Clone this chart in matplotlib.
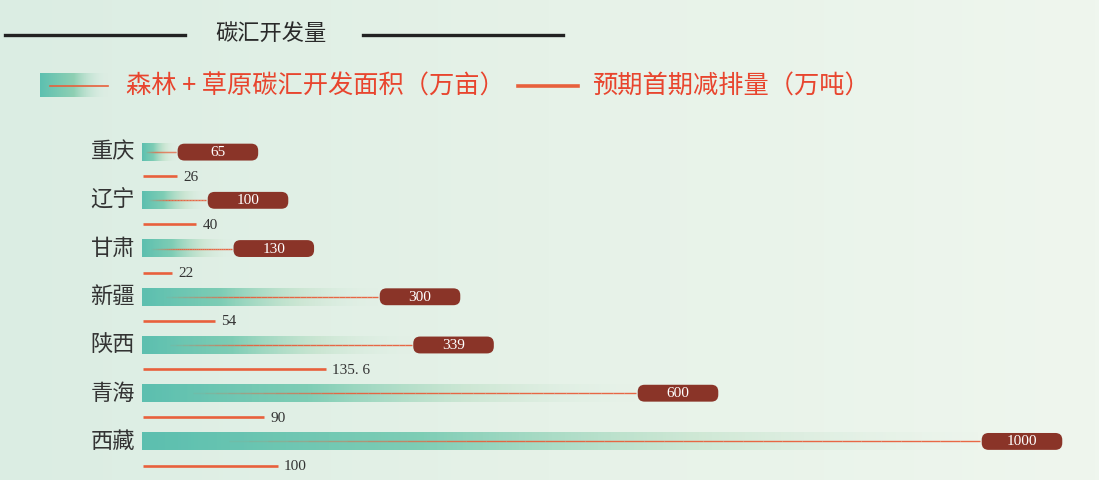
import numpy as np
import matplotlib
matplotlib.use('Agg')
import matplotlib.pyplot as plt
from matplotlib.patches import FancyBboxPatch
from matplotlib.collections import LineCollection
from matplotlib.colors import LinearSegmentedColormap, to_rgba

plt.rcParams['font.family'] = ['Noto Sans CJK SC', 'DejaVu Sans']

# data
provinces = ['重庆', '辽宁', '甘肃', '新疆', '陕西', '青海', '西藏']
area = [65, 100, 130, 300, 339, 600, 1000]           # 万亩
emission = [26, 40, 22, 54, 135.6, 90, 100]          # 万吨
emission_labels = ['26', '40', '22', '54', '135. 6', '90', '100']

title = '碳汇开发量'
legend_area = '森林 + 草原碳汇开发面积（万亩）'
legend_emis = '预期首期减排量（万吨）'

teal = '#5cc0b0'
orange = '#e8603c'
pill = '#8a3428'
txt = '#333333'

W, H = 1099, 480
fig = plt.figure(figsize=(W / 100, H / 100), dpi=100)

# background gradient
bg = fig.add_axes([0, 0, 1, 1])
bg_cmap = LinearSegmentedColormap.from_list('bg', ['#dbede3', '#e6f2e8', '#eff6ee'])
bg.imshow(np.linspace(0, 1, 256).reshape(1, -1), aspect='auto', cmap=bg_cmap,
          extent=[0, 1, 0, 1])
bg.set_xlim(0, 1)
bg.set_ylim(0, 1)
bg.axis('off')

# title + lines (figure fraction)
bg.plot([5 / W, 185 / W], [1 - 35 / H] * 2, color='#222222', lw=2.4)
bg.plot([363 / W, 563 / W], [1 - 35 / H] * 2, color='#222222', lw=2.4)
bg.text(271 / W, 1 - 33 / H, title, ha='center', va='center', fontsize=16,
        color='#2a2a2a', fontweight='medium')

# legend
lg_cmap = LinearSegmentedColormap.from_list('lg', [teal, '#8fd0b4', (0.86, 0.93, 0.89, 0)])
bg.imshow(np.linspace(0, 1, 256).reshape(1, -1), aspect='auto', cmap=lg_cmap,
          extent=[40 / W, 108 / W, 1 - 97 / H, 1 - 73 / H], zorder=2)
bg.plot([50 / W, 108 / W], [1 - 86 / H] * 2, color=orange, lw=1.2, zorder=3)
bg.text(126 / W, 1 - 87 / H, legend_area, ha='left', va='center', fontsize=18.2,
        color='#e8452e')
bg.plot([518 / W, 578 / W], [1 - 86 / H] * 2, color=orange, lw=2.6)
bg.text(592 / W, 1 - 87 / H, legend_emis, ha='left', va='center', fontsize=18.2,
        color='#e8452e')

# main axes: area scale, zero sits a little left of where the bars start
top, bottom = 128, 480
origin = 120
px_per_unit = 0.86
bar_start = (142 - origin) / px_per_unit
ax = fig.add_axes([origin / W, 0, (W - origin) / W, (bottom - top) / H])
ax.patch.set_alpha(0)
ax.set_xlim(0, (W - origin) / px_per_unit)
ax.set_ylim(6.8, -0.5)
ax.axis('off')

# emission scale
ex_px = 1.36
ax2 = fig.add_axes([142 / W, 0, (W - 142) / W, (bottom - top) / H])
ax2.patch.set_alpha(0)
ax2.set_xlim(0, (W - 142) / ex_px)
ax2.set_ylim(6.8, -0.5)
ax2.axis('off')

bar_cmap = LinearSegmentedColormap.from_list(
    'bar', [(0.36, 0.75, 0.69, 1), (0.45, 0.79, 0.69, 0.9), (0.72, 0.87, 0.76, 0.5),
            (0.86, 0.93, 0.88, 0)])
grad = np.linspace(0, 1, 256).reshape(1, -1)
bh = 0.37
pill_w = 84 / px_per_unit
pill_h = 0.35
aspect = (1 / 48.2) / (1 / px_per_unit)
orc = np.array(to_rgba(orange))

for i, (name, a, e, el) in enumerate(zip(provinces, area, emission, emission_labels)):
    ax.imshow(grad, aspect='auto', cmap=bar_cmap,
              extent=[bar_start, a, i + bh / 2, i - bh / 2], zorder=2)
    # thin line fading in along the bar
    xs = np.linspace(bar_start + (a - bar_start) * 0.08, a, 40)
    segs = [[(xs[k], i), (xs[k + 1], i)] for k in range(len(xs) - 1)]
    cols = np.tile(orc, (len(segs), 1))
    cols[:, 3] = np.clip(np.linspace(0, 1, len(segs)) / 0.35, 0, 1) * 0.95
    ax.add_collection(LineCollection(segs, colors=cols, lw=1.0, zorder=3))
    p = FancyBboxPatch((a + 2, i - pill_h / 2), pill_w - 4, pill_h,
                       boxstyle='round,pad=0,rounding_size=8',
                       mutation_aspect=aspect, fc=pill, ec='none', zorder=4)
    ax.add_patch(p)
    ax.text(a + pill_w / 2, i + 0.01, str(a), ha='center', va='center', fontsize=11,
            color='white', family='Liberation Serif', zorder=5)
    ax.text(bar_start - 7 / px_per_unit, i, name, ha='right', va='center',
            fontsize=16, color=txt)
    ax2.plot([1, e], [i + 0.5, i + 0.5], color=orange, lw=1.9,
             solid_capstyle='butt')
    ax2.text(e + 6 / ex_px, i + 0.52, el, ha='left', va='center', fontsize=11,
             color=txt, family='Liberation Serif')

fig.savefig('out.png', dpi=100)
